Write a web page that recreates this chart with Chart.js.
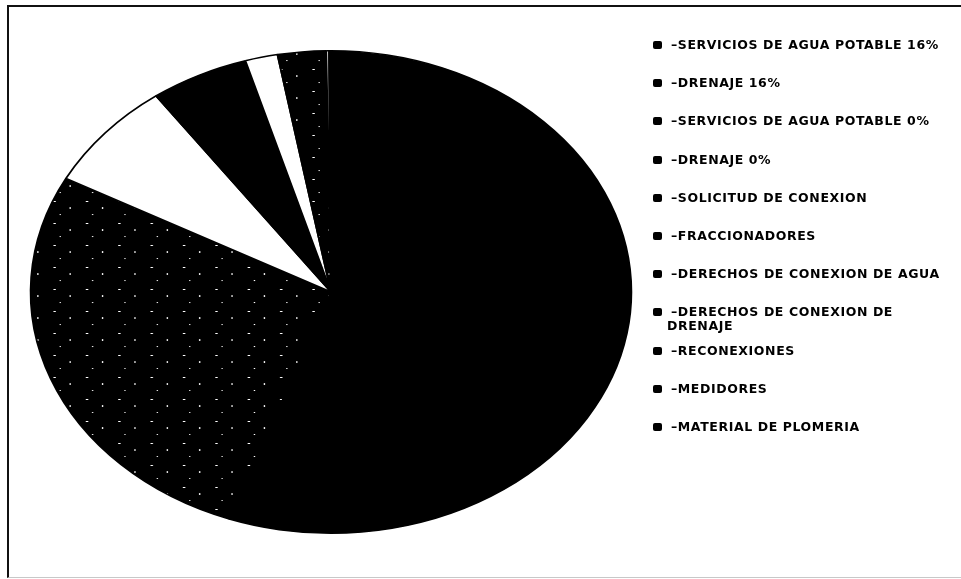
<!DOCTYPE html>
<html>
<head>
<meta charset="utf-8">
<script src="https://cdn.jsdelivr.net/npm/chart.js@4/dist/chart.umd.min.js"></script>
<style>
    html, body { margin: 0; padding: 0; background: #fff; }
    #wrap { position: relative; width: 961px; height: 579px; overflow: hidden; }
    #frame {
        position: absolute; left: 7px; top: 5px; width: 1000px; height: 570px;
        border-left: 2px solid #111; border-top: 2px solid #111; border-bottom: 1px solid #c8c8c8;
    }
    #pieChart { position: absolute; left: 0; top: 0; }
    #legend { position: absolute; left: 653px; top: 0; font-family: "DejaVu Sans", sans-serif; font-weight: bold; font-size: 12.5px; letter-spacing: 0.6px; color: #000; }
    .item { position: absolute; left: 0; white-space: nowrap; line-height: 14px; }
    .box { display: inline-block; width: 9px; height: 8px; border-radius: 2px; background: #000; margin-right: 4px; vertical-align: 0px; }
</style>
</head>
<body>
<div id="wrap">
    <div id="frame"></div>
    <canvas id="pieChart" width="961" height="579"></canvas>
    <div id="legend"></div>
</div>
<script>
// Categories (legend order = slice order, clockwise from 12 o'clock)
const categories = [
    'SERVICIOS DE AGUA POTABLE 16%',
    'DRENAJE 16%',
    'SERVICIOS DE AGUA POTABLE 0%',
    'DRENAJE 0%',
    'SOLICITUD DE CONEXION',
    'FRACCIONADORES',
    'DERECHOS DE CONEXION DE AGUA',
    ['DERECHOS DE CONEXION DE', 'DRENAJE'],
    'RECONEXIONES',
    'MEDIDORES',
    'MATERIAL DE PLOMERIA'
];

// Share of each concept (%)
const shares = [55.5, 27.3, 7.3, 5.3, 1.75, 2.6, 0.15, 0.03, 0.03, 0.02, 0.02];

// Sparse speckled fill, like the scanned grey slices
function speckle() {
    const c = document.createElement('canvas');
    c.width = 26; c.height = 22;
    const g = c.getContext('2d');
    g.fillStyle = '#000';
    g.fillRect(0, 0, 26, 22);
    g.fillStyle = '#fff';
    g.fillRect(4, 3, 2, 1);
    g.fillRect(17, 9, 1, 2);
    g.fillRect(9, 16, 1, 1);
    return g.createPattern(c, 'repeat');
}
const dots = speckle();
const sliceColors = ['#000', dots, '#fff', '#000', '#fff', dots, '#fff', '#000', '#000', '#000', '#000'];

// Stretch the pie horizontally (the original is an ellipse)
const STRETCH = 1.245;
const ellipse = {
    id: 'ellipse',
    beforeDatasetsDraw(chart) {
        const arc = chart.getDatasetMeta(0).data[0];
        const ctx = chart.ctx;
        ctx.save();
        ctx.translate(arc.x, arc.y);
        ctx.scale(STRETCH, 1);
        ctx.translate(-arc.x, -arc.y);
    },
    afterDatasetsDraw(chart) {
        chart.ctx.restore();
    }
};

const chart = new Chart(document.getElementById('pieChart'), {
    type: 'pie',
    data: {
        labels: categories,
        datasets: [{
            data: shares,
            backgroundColor: sliceColors,
            borderColor: '#000',
            borderWidth: 1.5,
            hoverOffset: 0,
            clip: false
        }]
    },
    options: {
        responsive: false,
        animation: false,
        layout: { padding: { left: 89, top: 50, right: 388, bottom: 45 } },
        plugins: {
            legend: { display: false },
            tooltip: { enabled: false }
        }
    },
    plugins: [ellipse]
});

// Legend on the right
const legend = document.getElementById('legend');
categories.forEach((label, i) => {
    const lines = Array.isArray(label) ? label : [label];
    const div = document.createElement('div');
    div.className = 'item';
    div.style.top = (38 + i * 38.2) + 'px';
    div.innerHTML = '<span class="box"></span> \u2013' + lines[0] +
        lines.slice(1).map(l => '<br><span style="margin-left:14px">' + l + '</span>').join('');
    legend.appendChild(div);
});
</script>
</body>
</html>
